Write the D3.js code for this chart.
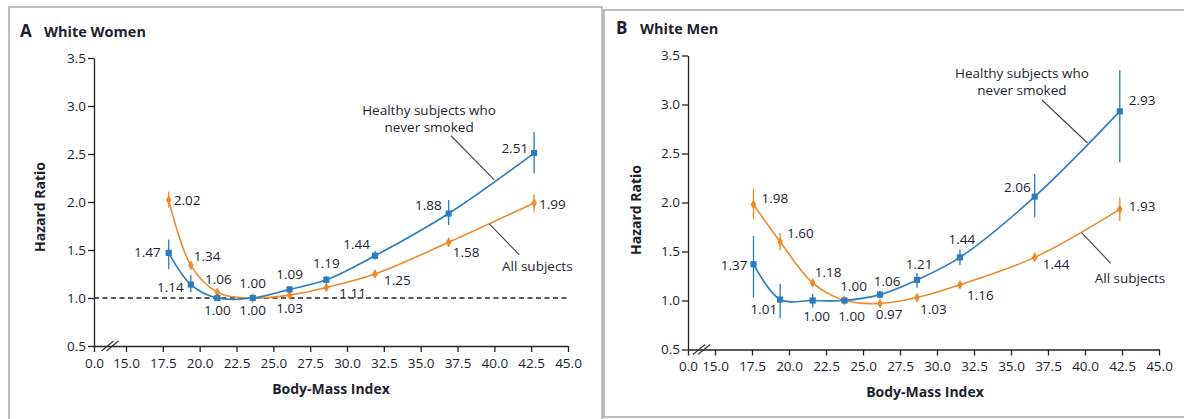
<!DOCTYPE html>
<html>
<head>
<meta charset="utf-8">
<script src="https://cdn.jsdelivr.net/npm/d3@7"></script>
<style>
  body { margin: 0; background: #fff; }
  text { font-family: "Open Sans", "Noto Sans", sans-serif; fill: #1d1f30; }
</style>
</head>
<body>
<svg id="chart" width="1184" height="419"></svg>
<script>
// tick values on the broken x axis (0.0, then 15.0 ... 45.0)
const xTicks = [0, 15, 17.5, 20, 22.5, 25, 27.5, 30, 32.5, 35, 37.5, 40, 42.5, 45];
const yTicks = [0.5, 1.0, 1.5, 2.0, 2.5, 3.0, 3.5];

// White women
const bmiWomen = [17.9, 19.4, 21.2, 23.6, 26.1, 28.6, 31.9, 36.9, 42.7];
const womenHealthy = [1.47, 1.14, 1.00, 1.00, 1.09, 1.19, 1.44, 1.88, 2.51];
const womenHealthyLo = [1.30, 1.06, 0.97, 0.98, 1.06, 1.15, 1.40, 1.76, 2.30];
const womenHealthyHi = [1.61, 1.24, 1.04, 1.02, 1.12, 1.23, 1.49, 2.02, 2.73];
const womenAll = [2.02, 1.34, 1.06, 1.00, 1.03, 1.11, 1.25, 1.58, 1.99];
const womenAllLo = [1.94, 1.30, 1.03, 0.99, 1.01, 1.08, 1.22, 1.53, 1.89];
const womenAllHi = [2.11, 1.38, 1.09, 1.01, 1.05, 1.14, 1.28, 1.63, 2.08];

// White men
const bmiMen = [17.6, 19.4, 21.6, 23.75, 26.15, 28.65, 31.55, 36.6, 42.35];
const menHealthy = [1.37, 1.01, 1.00, 1.00, 1.06, 1.21, 1.44, 2.06, 2.93];
const menHealthyLo = [1.03, 0.82, 0.93, 0.98, 1.02, 1.13, 1.36, 1.85, 2.41];
const menHealthyHi = [1.66, 1.17, 1.07, 1.02, 1.10, 1.28, 1.52, 2.29, 3.35];
const menAll = [1.98, 1.60, 1.18, 1.00, 0.97, 1.03, 1.16, 1.44, 1.93];
const menAllLo = [1.83, 1.51, 1.16, 0.99, 0.96, 1.01, 1.14, 1.40, 1.81];
const menAllHi = [2.14, 1.69, 1.20, 1.01, 0.98, 1.05, 1.18, 1.49, 2.05];

const blue = "#2a7bbf";
const orange = "#ef8a2c";

const svg = d3.select("#chart");

// label placement for each point: [dx, dy, anchor]
const panels = [
  {
    letter: "A", title: "White Women",
    frame: { x: 9, y: 7, w: 593, h: 430 },
    titleX: 20, titleY: 37,
    xRange: [94, 126, 568], yRange: [346, 58],
    bmi: bmiWomen,
    healthy: [womenHealthy, womenHealthyLo, womenHealthyHi],
    all: [womenAll, womenAllLo, womenAllHi],
    healthyLabels: [[-8, -1, "end"], [-7, 3, "end"], [0, 12, "middle"], [0, 12, "middle"],
      [0, -15, "middle"], [0, -16, "middle"], [-5, -11, "end"], [-7, -8, "end"], [-6, -5, "end"]],
    allLabels: [[5, 0, "start"], [3, -9, "start"], [1, -13, "middle"], [0, -15, "middle"],
      [0, 13, "middle"], [13, 6, "start"], [9, 6, "start"], [4, 10, "start"], [5, 1, "start"]],
    dashed: true,
    annHealthy: { at: [40.0, 2.23], from: [37.06, 2.69], text: [35.57, 2.906] },
    annAll: { at: [39.68, 1.77], from: [41.7, 1.448], text: [42.92, 1.281] },
    xTitle: [331, 394], yTitle: [45, 207]
  },
  {
    letter: "B", title: "White Men",
    frame: { x: 604, y: 10, w: 620, h: 407 },
    titleX: 616, titleY: 34,
    xRange: [688, 715, 1159], yRange: [349.5, 55.5],
    bmi: bmiMen,
    healthy: [menHealthy, menHealthyLo, menHealthyHi],
    all: [menAll, menAllLo, menAllHi],
    healthyLabels: [[-6, 1, "end"], [-3, 10, "end"], [4, 16, "middle"], [7, 16, "middle"],
      [7, -13, "middle"], [2, -16, "middle"], [2, -18, "middle"], [-4, -9, "end"], [9, -11, "start"]],
    allLabels: [[8, -6, "start"], [7, -8, "start"], [2, -11, "start"], [9, -14, "middle"],
      [9, 11, "middle"], [3, 12, "start"], [7, 10, "start"], [8, 7, "start"], [9, -3, "start"]],
    dashed: false,
    annHealthy: { at: [40.17, 2.607], from: [37.09, 3.046], text: [35.74, 3.27] },
    annAll: { at: [39.78, 1.69], from: [41.74, 1.38], text: [43.04, 1.18] },
    xTitle: [925, 397], yTitle: [641, 210]
  }
];

panels.forEach(p => {
  const g = svg.append("g");

  // panel frame
  g.append("rect")
    .attr("x", p.frame.x).attr("y", p.frame.y)
    .attr("width", p.frame.w).attr("height", p.frame.h)
    .attr("fill", "none").attr("stroke", "#a8a8a8").attr("stroke-width", 1.5);

  g.append("text").attr("x", p.titleX).attr("y", p.titleY)
    .style("font-size", "17px").style("font-weight", 700).text(p.letter);
  g.append("text").attr("x", p.titleX + 24).attr("y", p.titleY)
    .style("font-size", "14.5px").style("font-weight", 700).text(p.title);

  const x = d3.scaleLinear().domain([0, 15, 45]).range(p.xRange);
  const y = d3.scaleLinear().domain([0.5, 3.5]).range(p.yRange);

  // axes
  const xAxis = g.append("g")
    .attr("transform", `translate(0,${p.yRange[0]})`)
    .call(d3.axisBottom(x).tickValues(xTicks).tickFormat(d3.format(".1f"))
      .tickSizeOuter(0).tickPadding(6));
  const yAxis = g.append("g")
    .attr("transform", `translate(${p.xRange[0]},0)`)
    .call(d3.axisLeft(y).tickValues(yTicks).tickFormat(d3.format(".1f")).tickSizeOuter(0));
  [xAxis, yAxis].forEach(a => {
    a.select(".domain").attr("stroke", "#222").attr("stroke-width", 1.3);
    a.selectAll(".tick line").attr("stroke", "#222").attr("stroke-width", 1.3);
    a.selectAll(".tick text").style("font-size", "13.5px").attr("fill", "#1d1f30")
      .style("font-family", '"Open Sans", sans-serif');
  });
  yAxis.selectAll(".tick text").attr("x", -8);

  // axis break marks
  const bx = x(7.5), by = p.yRange[0];
  [-2.5, 2.5].forEach(o => {
    g.append("line")
      .attr("x1", bx + o - 6).attr("y1", by + 5)
      .attr("x2", bx + o + 6).attr("y2", by - 5)
      .attr("stroke", "#333").attr("stroke-width", 1.1);
  });

  // reference line at 1.0
  if (p.dashed) {
    g.append("line")
      .attr("x1", x(0)).attr("x2", x(45))
      .attr("y1", y(1)).attr("y2", y(1))
      .attr("stroke", "#222").attr("stroke-width", 1.3)
      .attr("stroke-dasharray", "5,3.5");
  }

  const line = d3.line()
    .x(d => x(d[0]))
    .y(d => y(d[1]))
    .curve(d3.curveCatmullRom.alpha(0.5));

  // all subjects first, healthy on top
  const series = [
    { vals: p.all, color: orange, labels: p.allLabels, sym: d3.symbolDiamond, size: 28 },
    { vals: p.healthy, color: blue, labels: p.healthyLabels, sym: d3.symbolSquare, size: 38 }
  ];

  series.forEach(s => {
    const pts = p.bmi.map((b, i) => [b, s.vals[0][i], s.vals[1][i], s.vals[2][i]]);

    g.append("path")
      .datum(pts)
      .attr("d", line)
      .attr("fill", "none")
      .attr("stroke", s.color)
      .attr("stroke-width", 1.6);

    g.selectAll(null)
      .data(pts)
      .join("line")
      .attr("x1", d => x(d[0])).attr("x2", d => x(d[0]))
      .attr("y1", d => y(d[2])).attr("y2", d => y(d[3]))
      .attr("stroke", s.color).attr("stroke-width", 1.3);

    g.selectAll(null)
      .data(pts)
      .join("path")
      .attr("transform", d => `translate(${x(d[0])},${y(d[1])})`)
      .attr("d", d3.symbol().type(s.sym).size(s.size))
      .attr("fill", s.color);

    g.selectAll(null)
      .data(pts)
      .join("text")
      .attr("x", (d, i) => x(d[0]) + s.labels[i][0])
      .attr("y", (d, i) => y(d[1]) + s.labels[i][1])
      .attr("dy", "0.35em")
      .attr("text-anchor", (d, i) => s.labels[i][2])
      .style("font-size", "13.5px")
      .text(d => d3.format(".2f")(d[1]));
  });

  // annotations with leader lines
  const ann = [
    { a: p.annHealthy, lines: ["Healthy subjects who", "never smoked"] },
    { a: p.annAll, lines: ["All subjects"] }
  ];
  ann.forEach(n => {
    g.append("line")
      .attr("x1", x(n.a.from[0])).attr("y1", y(n.a.from[1]))
      .attr("x2", x(n.a.at[0])).attr("y2", y(n.a.at[1]))
      .attr("stroke", "#444").attr("stroke-width", 1.1);
    g.append("text")
      .attr("x", x(n.a.text[0]))
      .attr("y", y(n.a.text[1]))
      .attr("text-anchor", "middle")
      .style("font-size", "13.5px")
      .selectAll("tspan")
      .data(n.lines)
      .join("tspan")
      .attr("x", x(n.a.text[0]))
      .attr("dy", (d, i) => i === 0 ? 0 : 17)
      .text(d => d);
  });

  // axis titles
  g.append("text")
    .attr("x", p.xTitle[0]).attr("y", p.xTitle[1])
    .attr("text-anchor", "middle")
    .style("font-size", "14px").style("font-weight", 700)
    .text("Body-Mass Index");
  g.append("text")
    .attr("transform", `translate(${p.yTitle[0]},${p.yTitle[1]}) rotate(-90)`)
    .attr("text-anchor", "middle")
    .style("font-size", "14px").style("font-weight", 700)
    .text("Hazard Ratio");
});
</script>
</body>
</html>
